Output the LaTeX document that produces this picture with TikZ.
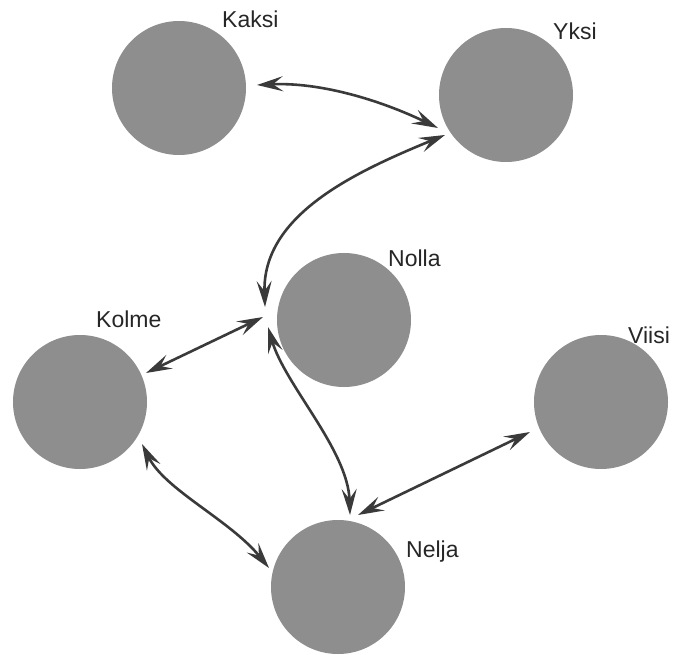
\documentclass[tikz,border=0pt]{standalone}
\usepackage{fontspec}
\setmainfont{Liberation Sans}
\usetikzlibrary{arrows.meta}
\definecolor{ballgray}{HTML}{8E8E8E}
\definecolor{linegray}{HTML}{3A3A3A}
\tikzset{
  ball/.style={circle, fill=ballgray, minimum size=134pt, inner sep=0pt},
  lbl/.style={anchor=base west, inner sep=0pt, font=\fontsize{23}{26}\selectfont, text=black!85},
  link/.style={draw=linegray, line width=2.6pt,
    arrows={Stealth[length=26pt,width=15pt,inset=10pt]-Stealth[length=26pt,width=15pt,inset=10pt]}}
}
\begin{document}
\begin{tikzpicture}[x=1pt,y=-1pt]
\useasboundingbox (0,0) rectangle (691,655);
\node[ball] (kaksi) at (179,88) {};
\node[ball] (yksi) at (506,95) {};
\node[ball] (nolla) at (344,320) {};
\node[ball] (kolme) at (80,402) {};
\node[ball] (viisi) at (601,402) {};
\node[ball] (nelja) at (338,587) {};
\node[lbl] (lk) at (222,28) {Kaksi};
\node[lbl] (ly) at (553,40) {Yksi};
\node[lbl] (ln) at (388,267) {Nolla};
\node[lbl] (lko) at (96,327) {Kolme};
\node[lbl] (lv) at (628,343) {Viisi};
\node[lbl] (lne) at (406,557) {Nelja};
\coordinate (kaR) at (257,85);
\coordinate (ykL) at (438,128);
\coordinate (ykL2) at (445,135);
\coordinate (noT) at (265,307);
\coordinate (noL) at (263,317);
\coordinate (noB) at (268,327);
\coordinate (koR) at (146,373);
\coordinate (koB) at (142,444);
\coordinate (neT) at (350,515);
\coordinate (neT2) at (358,515);
\coordinate (neL) at (269,568);
\coordinate (viL) at (530,432);
\draw[link] (kaR) .. controls (320,82) and (380,100) .. (ykL);
\draw[link] (ykL2) .. controls (355,172) and (262,215) .. (noT);
\draw[link] (koR) -- (noL);
\draw[link] (noB) .. controls (285,385) and (348,450) .. (neT);
\draw[link] (koB) .. controls (165,490) and (230,520) .. (neL);
\draw[link] (viL) -- (neT2);
\end{tikzpicture}
\end{document}
